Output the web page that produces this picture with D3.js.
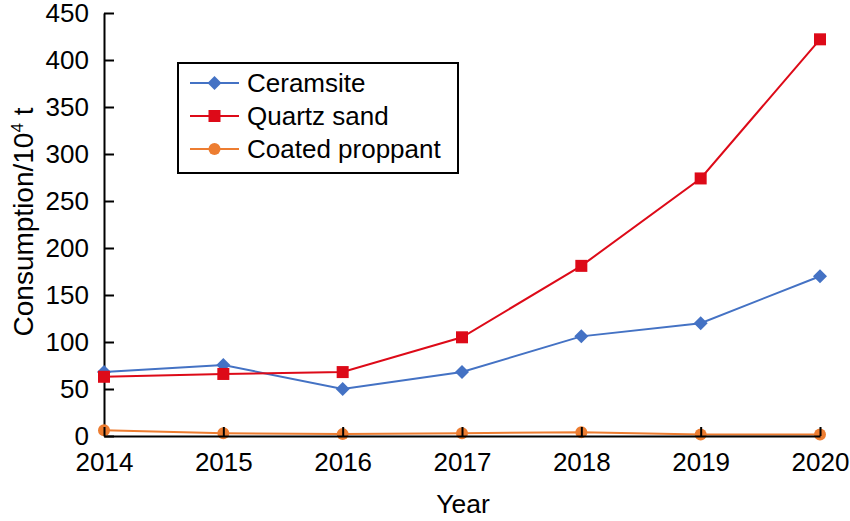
<!DOCTYPE html>
<html lang="en">
<head>
	<meta charset="UTF-8">
	<title>Proppant consumption</title>
	<script src="https://cdn.jsdelivr.net/npm/d3@7"></script>
	<style>
		body { margin: 0; background: #fff; }
		text { font-family: "Liberation Sans", Arial, sans-serif; }
	</style>
</head>
<body>
	<div id="container"></div>
	<script>
		var years = [2014, 2015, 2016, 2017, 2018, 2019, 2020];
		var ceramsite = [68, 75.5, 50, 68, 106, 120, 170];
		var quartz = [63, 66, 68, 105, 181, 274, 422];
		var coated = [6, 3, 2, 3, 4, 1.5, 1.5];
		var yTicks = [0, 50, 100, 150, 200, 250, 300, 350, 400, 450];

		var width = 850, height = 521;
		var svg = d3.select("#container").append("svg")
				.attr("width", width)
				.attr("height", height);

		var x = d3.scaleLinear().domain([2014, 2020]).range([104, 820]);
		var y = d3.scaleLinear().domain([0, 450]).range([436, 13]);

		var series = [
			{name: "Ceramsite", values: ceramsite, color: "#4472C4", shape: "diamond"},
			{name: "Quartz sand", values: quartz, color: "#DD0A18", shape: "square"},
			{name: "Coated proppant", values: coated, color: "#ED7D31", shape: "circle"}
		];

		// axes
		var yAxis = d3.axisLeft(y).tickValues(yTicks).tickSizeInner(-10).tickSizeOuter(0).tickPadding(15);
		var gy = svg.append("g").attr("transform", "translate(104,0)").call(yAxis);
		gy.selectAll("text").style("font-size", "26px").attr("fill", "#000");
		gy.selectAll("line, path").attr("stroke", "#000").attr("stroke-width", 2);

		function drawMarker(g, shape, color, cx, cy) {
			if (shape == "diamond") {
				g.append("path")
					.attr("d", "M" + cx + "," + (cy - 7) + "L" + (cx + 7) + "," + cy + "L" + cx + "," + (cy + 7) + "L" + (cx - 7) + "," + cy + "Z")
					.attr("fill", color);
			} else if (shape == "square") {
				g.append("rect").attr("x", cx - 6).attr("y", cy - 6).attr("width", 12).attr("height", 12).attr("fill", color);
			} else {
				g.append("circle").attr("cx", cx).attr("cy", cy).attr("r", 6).attr("fill", color);
			}
		}

		var line = d3.line().x((d, i) => x(years[i])).y(d => y(d));

		// coated first (under the axis), then others
		[series[2], series[0], series[1]].forEach(s => {
			var g = svg.append("g");
			g.append("path").datum(s.values)
				.attr("d", line)
				.attr("fill", "none")
				.attr("stroke", s.color)
				.attr("stroke-width", 2);
			s.values.forEach((v, i) => drawMarker(g, s.shape, s.color, x(years[i]), y(v)));
			if (s.shape == "circle") {
				var xAxis = d3.axisBottom(x).tickValues(years).tickFormat(d3.format("d"))
						.tickSizeInner(-9).tickSizeOuter(0).tickPadding(17);
				var gx = svg.append("g").attr("transform", "translate(0,436)").call(xAxis);
				gx.selectAll("text").style("font-size", "26px").attr("fill", "#000");
				gx.selectAll("line, path").attr("stroke", "#000").attr("stroke-width", 2);
			}
		});

		// axis titles
		svg.append("text")
				.attr("x", 463).attr("y", 513)
				.attr("text-anchor", "middle")
				.style("font-size", "26.5px")
				.text("Year");

		var yt = svg.append("text")
				.attr("transform", "translate(33,222) rotate(-90)")
				.attr("text-anchor", "middle")
				.style("font-size", "28px");
		yt.append("tspan").text("Consumption/10");
		yt.append("tspan").attr("dy", -10).style("font-size", "17px").text("4");
		yt.append("tspan").attr("dy", 10).text(" t");

		// legend
		var lg = svg.append("g");
		lg.append("rect")
				.attr("x", 178).attr("y", 63).attr("width", 280).attr("height", 110)
				.attr("fill", "#fff").attr("stroke", "#000").attr("stroke-width", 2);
		series.forEach((s, i) => {
			var ly = 83 + i * 33;
			lg.append("line").attr("x1", 190).attr("x2", 239).attr("y1", ly).attr("y2", ly)
				.attr("stroke", s.color).attr("stroke-width", 2);
			drawMarker(lg, s.shape, s.color, 214.5, ly);
			lg.append("text").attr("x", 247).attr("y", ly + 9)
				.style("font-size", "26px")
				.text(s.name);
		});
	</script>
</body>
</html>
